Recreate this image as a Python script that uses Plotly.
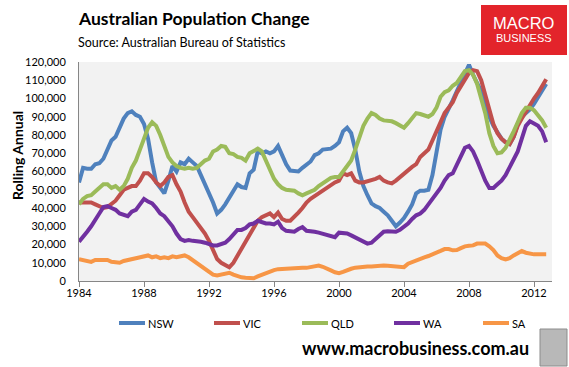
import plotly.graph_objects as go

years = [1984 + q * 0.25 for q in range(116)]

nsw = [54, 62, 61.5, 61.5, 64, 64.5, 67, 72, 77, 79, 84, 89, 92, 93, 91, 90,
       86, 78, 65, 54, 51, 48, 55, 63, 60, 65, 64, 67, 65, 63, 58, 53,
       49, 43, 37, 39, 42, 46, 49, 53, 51.5, 51, 59, 61, 71, 70, 71, 70,
       71, 74, 69, 64, 60.5, 60, 60, 62, 64, 65.5, 69, 70, 72, 72, 72.5, 74,
       76, 82, 84, 81, 72, 60, 52, 47, 42.5, 41, 40, 38, 36, 33, 30, 32,
       34.5, 38, 42, 48, 49.5, 49.5, 50, 58, 70, 83, 90, 94, 99, 104, 109, 113,
       118.5, 113, 109, 104, 97, 90, 85, 81, 78, 76, 75, 79, 86, 90, 92, 94,
       97, 101, 104, 108]
vic = [43, 43, 43, 43, 42, 41, 40, 40.5, 42, 44, 47, 50, 51, 52, 52, 55,
       59, 59, 57, 54, 52, 54, 57, 58, 53, 49, 43, 38, 35, 32, 29, 26,
       22, 17, 12, 10, 8.5, 7.5, 10, 14, 17, 21, 25, 29, 33, 35, 36, 37,
       35, 37.5, 34, 33, 33, 35, 37.5, 40, 43, 45, 46.5, 48, 50, 51.5, 52.5, 54,
       55, 59, 58, 59, 55, 54, 54, 54.5, 55, 56, 57, 55, 54, 53.5, 55, 57,
       58.5, 61, 62.5, 64, 68, 70, 72, 77, 82, 88, 92, 95, 98, 103, 107, 110,
       114, 115.5, 115, 110, 102, 92, 86, 81, 78, 76, 75, 79, 85, 89, 93, 96,
       100, 103, 107, 110.5]
qld = [42, 45, 46.5, 47, 49, 51, 53, 53, 51, 52, 50, 52, 56, 62, 66, 72,
       78, 84, 87, 85, 80, 74, 68, 65, 63, 62, 61.5, 62, 61.5, 62, 64, 66,
       67, 71, 72, 74, 73.5, 70, 69.5, 68, 67.5, 66, 70, 71, 72.5, 71, 66, 62,
       56, 53, 51, 50, 50, 49.5, 48, 47, 48, 49, 50, 52, 53.5, 55, 56.5, 57,
       57, 60, 63, 66, 72, 79, 85, 89, 92, 91, 89, 88, 88, 87.5, 86.5, 85,
       84, 86.5, 89.5, 92, 91.5, 90.5, 90, 91.5, 95, 101, 103.5, 104.5, 107, 108.5, 112, 115,
       115.5, 113, 108, 100, 92, 81, 74, 70, 70.5, 73, 77, 82, 87, 92, 95, 95,
       93.5, 91, 88, 84]
wa = [21.5, 24, 27, 30, 34, 37, 40.5, 41, 40, 39, 37, 36, 35.5, 38, 39, 42,
      45, 43.5, 42.5, 40, 37, 35.5, 33, 30, 26, 23, 22, 22.5, 22, 22, 21.5, 21,
      20, 19.5, 19.5, 20, 21, 23, 25.5, 28, 28, 29, 31, 31.5, 33, 32, 31.5, 31.5,
      31, 32.5, 29, 27.5, 27.5, 27, 28.5, 29.5, 27.5, 27.5, 27, 26.5, 26, 25.5, 24.5, 24,
      26.5, 26.5, 26, 25, 24, 22.5, 21.5, 20.5, 21, 23, 25.5, 27, 27.3, 27, 27, 28,
      29.5, 31.5, 34, 36, 37, 39, 42, 45, 48, 51, 55, 58, 59, 64, 69, 73,
      74, 71, 66, 60, 55, 51, 51, 53, 55, 58, 62, 67, 71, 78, 85, 87.5,
      86.5, 85, 82, 76]
sa = [12, 11.5, 11, 10.5, 11.5, 11.5, 11, 11.5, 10.5, 10, 10, 11, 11.5, 11.5, 12, 13,
      13.5, 14, 13, 13.5, 12.5, 13, 12.5, 13.5, 13, 13.5, 14, 13, 11.5, 10, 8.5, 7,
      5.5, 3.5, 3, 3.5, 4, 4.5, 3.5, 2.5, 2, 1.8, 1.5, 1.5, 2.5, 3.5, 4.5, 5.5,
      6, 6.5, 6.7, 6.7, 6.7, 7, 7.5, 7.3, 7.2, 7.5, 8, 8.5, 7.8, 7, 5.8, 4.8,
      4.3, 5, 6, 6.7, 7.3, 7.6, 8, 8, 8, 8.3, 8.5, 8.5, 8.3, 8, 8, 7.8,
      7.6, 9.5, 10.5, 11.3, 12, 13, 13.7, 14.5, 15.5, 16.5, 17.5, 17.5, 16.8, 17, 18, 19,
      19.3, 19.5, 20.5, 20.5, 20.5, 19, 17, 14, 12.5, 11.8, 12.5, 14, 15.5, 16.4, 15.5, 14.8,
      14.6, 14.6, 14.6, 14.6]

series_names = ["NSW", "VIC", "QLD", "WA", "SA"]
series_values = [nsw, vic, qld, wa, sa]
colors = ["#4F81BD", "#C0504D", "#9BBB59", "#7030A0", "#F79646"]

x_ticks = [1984, 1988, 1992, 1996, 2000, 2004, 2008, 2012]
y_ticks = list(range(0, 120001, 10000))

FONT = "Lato, 'Liberation Sans', sans-serif"
ARIAL = "'Liberation Sans', Arial, sans-serif"

fig = go.Figure()
for name, vals, col in zip(series_names, series_values, colors):
    fig.add_trace(go.Scatter(
        x=years, y=[v * 1000 for v in vals], name=name, mode="lines",
        line=dict(color=col, width=4), hoverinfo="skip", showlegend=False))

# plot area in px: x 79..552, y 62..281
L, R, T, B = 79, 552, 62, 281
W, H = R - L, B - T
def px(x):
    return (x - L) / W
def py(y):
    return (B - y) / H

fig.update_layout(
    width=569, height=367,
    margin=dict(l=L, r=569 - R, t=T, b=367 - B, pad=0, autoexpand=False),
    paper_bgcolor="white", plot_bgcolor="#F2F2F2",
    font=dict(family=FONT, size=11, color="#000000"),
    showlegend=False,
    xaxis=dict(range=[1984, 1984 + W / 16.25], tickvals=x_ticks,
               ticktext=[str(t) for t in x_ticks], showgrid=False, zeroline=False,
               showline=True, linecolor="#868686", linewidth=1, automargin=False,
               ticks="outside", ticklen=5, tickcolor="#868686", ticklabelstandoff=-3,
               tickfont=dict(size=11, family=FONT)),
    yaxis=dict(range=[0, 120000], tickvals=y_ticks, tickformat=",", showgrid=False,
               zeroline=False, showline=True, linecolor="#868686", linewidth=1,
               automargin=False, ticks="", ticklabelstandoff=10,
               tickfont=dict(size=11, family=FONT)),
)

ann = [
    dict(text="<b>Australian Population Change</b>", x=px(76), y=py(18), xanchor="left",
         yanchor="middle", font=dict(size=17.5, family=FONT, color="#000")),
    dict(text="Source: Australian Bureau of Statistics", x=px(76), y=py(43), xanchor="left",
         yanchor="middle", font=dict(size=12.5, family=FONT, color="#000")),
    dict(text="<b>Rolling Annual</b>", x=px(17), y=py(155), textangle=-90,
         xanchor="center", yanchor="middle", font=dict(size=14, family=FONT, color="#000")),
    dict(text="MACRO", x=px(524), y=py(23), xanchor="center", yanchor="middle",
         font=dict(size=16.5, family=ARIAL, color="white")),
    dict(text="BUSINESS", x=px(524), y=py(38), xanchor="center", yanchor="middle",
         font=dict(size=11, family=ARIAL, color="white")),
    dict(text="<b>www.macrobusiness.com.au</b>", x=px(415.5), y=py(348), xanchor="center",
         yanchor="middle", font=dict(size=18, family=FONT, color="#000")),
]

shapes = [
    dict(type="rect", xref="paper", yref="paper", x0=px(481), x1=px(567), y0=py(55), y1=py(5),
         fillcolor="#E3242B", line=dict(width=0), layer="below"),
    dict(type="rect", xref="paper", yref="paper", x0=px(540), x1=px(567), y0=py(366), y1=py(329),
         fillcolor="#B8B8B8", line=dict(color="#8C8C8C", width=1), layer="below"),
]

# legend (line sample + label) under the chart
legend_x = [118, 213, 301, 393, 482]
for name, col, lx in zip(series_names, colors, legend_x):
    shapes.append(dict(type="line", xref="paper", yref="paper", x0=px(lx + 1), x1=px(lx + 27),
                       y0=py(323), y1=py(323), line=dict(color=col, width=4)))
    ann.append(dict(text=name, x=px(lx + 28), y=py(323), xanchor="left", yanchor="middle",
                    font=dict(size=11, family=FONT, color="#000")))

for a in ann:
    a.update(xref="paper", yref="paper", showarrow=False)
fig.update_layout(annotations=ann, shapes=shapes)

fig.write_html("out.html", config={"displayModeBar": False},
               post_script="document.body.style.margin='0';")
